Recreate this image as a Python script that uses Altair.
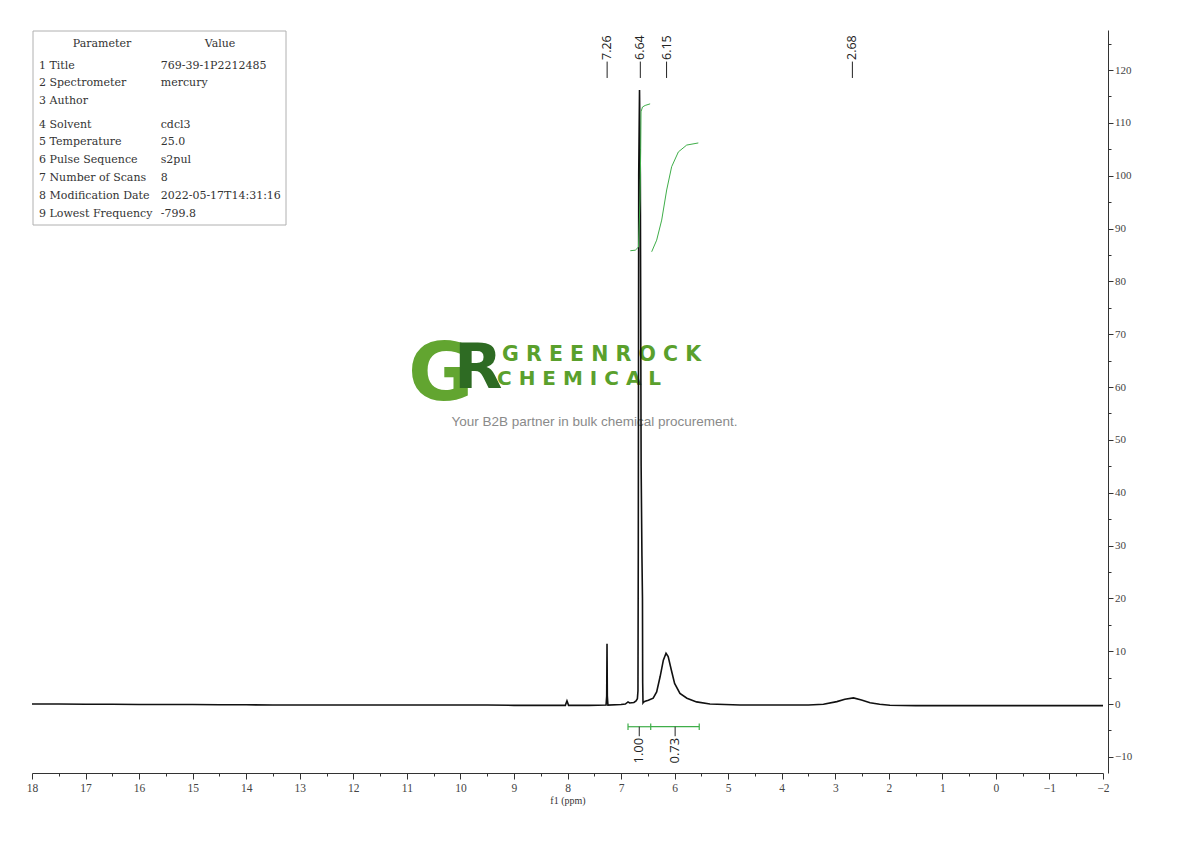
import altair as alt
import pandas as pd

# 1H NMR trace: chemical shift (ppm) and intensity
PPM = [18.0, 17.5, 17.0, 16.5, 16.0, 15.5, 15.0, 14.5, 14.0, 13.5, 13.0, 12.5, 12.0,
       11.5, 11.0, 10.5, 10.0, 9.5, 9.0, 8.5, 8.04, 8.01, 7.98, 7.6, 7.28, 7.268,
       7.262, 7.256, 7.245, 7.0, 6.92, 6.87, 6.84, 6.76, 6.72, 6.695, 6.684, 6.678,
       6.670, 6.655, 6.640, 6.625, 6.610, 6.600, 6.596, 6.590, 6.575, 6.55, 6.49,
       6.40, 6.335, 6.27, 6.21, 6.16, 6.12, 6.06, 6.00, 5.90, 5.77, 5.59, 5.34,
       4.78, 4.0, 3.5, 3.22, 2.97, 2.82, 2.66, 2.51, 2.35, 2.17, 1.98, 1.5, 1.0,
       0.5, 0.0, -0.5, -1.0, -1.5, -2.0]
INTENSITY = [0.0, 0.0, -0.05, -0.05, -0.1, -0.1, -0.1, -0.15, -0.15, -0.2, -0.2, -0.2,
             -0.2, -0.2, -0.2, -0.2, -0.2, -0.2, -0.25, -0.25, -0.25, 0.6, -0.25, -0.25,
             -0.2, 1.5, 11.4, 1.5, -0.2, -0.1, 0.0, 0.4, 0.2, 0.3, 0.6, 1.0, 2.5, 30.0,
             100.0, 116.2, 100.0, 45.0, 28.0, 20.0, 4.0, 0.2, 0.4, 0.5, 0.7,
             1.1, 2.3, 5.2, 8.3, 9.6, 9.0, 6.4, 3.9, 2.0, 1.1, 0.4, 0.0,
             -0.2, -0.2, -0.2, -0.05, 0.45, 0.9, 1.15, 0.75, 0.25, -0.05, -0.25, -0.3, -0.3,
             -0.3, -0.3, -0.3, -0.3, -0.3, -0.3]

# integral curves (drawn on the same vertical scale as in the picture)
INT1_PPM = [6.827, 6.734, 6.674, 6.646, 6.633, 6.627, 6.60, 6.55, 6.457]
INT1_Y = [85.8, 85.9, 86.5, 95.4, 104.9, 112.1, 113.0, 113.3, 113.6]
INT2_PPM = [6.428, 6.335, 6.241, 6.148, 6.055, 5.93, 5.774, 5.557]
INT2_Y = [85.6, 87.8, 91.6, 97.3, 101.7, 104.5, 105.8, 106.2]

PEAK_PPM = [7.26, 6.64, 6.15, 2.68]
PEAK_LABELS = ["7.26", "6.64", "6.15", "2.68"]

INT_EDGES = [6.87, 6.446, 5.54]
INT_CENTERS = [6.66, 5.99]
INT_LABELS = ["1.00", "0.73"]

X_TICKS = list(range(-2, 19))
X_MINOR = [t + 0.5 for t in range(-2, 18)]
Y_TICKS = list(range(-10, 121, 10))
Y_MINOR = list(range(-5, 126, 10))

PARAMS_A = ["1 Title", "2 Spectrometer", "3 Author"]
VALUES_A = ["769-39-1P2212485", "mercury", ""]
PARAMS_B = ["4 Solvent", "5 Temperature", "6 Pulse Sequence", "7 Number of Scans",
            "8 Modification Date", "9 Lowest Frequency"]
VALUES_B = ["cdcl3", "25.0", "s2pul", "8", "2022-05-17T14:31:16", "-799.8"]

W, H = 1071, 743
GREEN = "#3fae49"
SERIF = "Liberation Serif"
TABLE_FONT = "DejaVu Serif"

x_scale = alt.Scale(domain=[-2, 18], reverse=True, nice=False, zero=False)
y_scale = alt.Scale(domain=[-13.06, 127.58], nice=False, zero=False)

x_major = alt.Axis(values=X_TICKS, orient="bottom", title="f1 (ppm)", grid=False,
                   tickSize=6, tickColor="#333", domainColor="#333", labelFont=SERIF,
                   labelFontSize=11.5, labelColor="#444", labelPadding=3, labelFlush=False,
                   labelOverlap=False, titleFont=SERIF, titleFontSize=10,
                   titleFontWeight="normal", titleColor="#333", titlePadding=2)
x_minor = alt.Axis(values=X_MINOR, orient="bottom", title="", grid=False, labels=False,
                   domain=False, tickSize=3, tickColor="#333")
y_major = alt.Axis(values=Y_TICKS, orient="right", offset=5, title="", grid=False,
                   tickSize=5, tickColor="#333", domainColor="#333", labelFont=SERIF,
                   labelFontSize=11, labelColor="#444", labelPadding=1.5, labelFlush=False,
                   labelOverlap=False)
y_minor = alt.Axis(values=Y_MINOR, orient="right", offset=5, title="", grid=False,
                   labels=False, domain=False, tickSize=3, tickColor="#333")

one = pd.DataFrame({"a": [0]})

# parameter table, top left
box = alt.Chart(one).mark_rect(fill="white", stroke="#b0b0b0", strokeWidth=1).encode(
    x=alt.value(1), x2=alt.value(254), y=alt.value(1), y2=alt.value(195))
head_p = alt.Chart(one).mark_text(text="Parameter", font=TABLE_FONT, fontSize=11, color="#333",
                                  align="center").encode(x=alt.value(70), y=alt.value(14))
head_v = alt.Chart(one).mark_text(text="Value", font=TABLE_FONT, fontSize=11, color="#333",
                                  align="center").encode(x=alt.value(188), y=alt.value(14))
table = [box, head_p, head_v]
for lines, xpx, ypx in [(PARAMS_A, 7, 35.5), (VALUES_A, 128.7, 35.5),
                        (PARAMS_B, 7, 94.5), (VALUES_B, 128.7, 94.5)]:
    table.append(alt.Chart(one).mark_text(text=lines, font=TABLE_FONT, fontSize=11,
                                          color="#333", align="left", lineHeight=17.8).encode(
        x=alt.value(xpx), y=alt.value(ypx)))

# watermark logo in the middle
logo = [
    alt.Chart(one).mark_text(text="G", font="DejaVu Sans", fontWeight="bold", fontSize=80,
                             color="#62a530", align="left", baseline="alphabetic").encode(
        x=alt.value(376), y=alt.value(370)),
    alt.Chart(one).mark_text(text="R", font="DejaVu Sans", fontWeight="bold", fontSize=63,
                             color="#2e6b23", align="left", baseline="alphabetic").encode(
        x=alt.value(422), y=alt.value(358)),
    alt.Chart(one).mark_text(text="G R E E N R O C K", font="DejaVu Sans", fontWeight="bold",
                             fontSize=20.5, color="#5aa02c", align="left",
                             baseline="alphabetic").encode(x=alt.value(470), y=alt.value(331)),
    alt.Chart(one).mark_text(text="C H E M I C A L", font="DejaVu Sans", fontWeight="bold",
                             fontSize=20, color="#5aa02c", align="left",
                             baseline="alphabetic").encode(x=alt.value(465), y=alt.value(355)),
    alt.Chart(one).mark_text(text="Your B2B partner in bulk chemical procurement.",
                             font="Liberation Sans", fontSize=13.5, color="#8a8a8a",
                             align="center", baseline="alphabetic").encode(
        x=alt.value(562.5), y=alt.value(395.5)),
]

spec_df = pd.DataFrame({"ppm": PPM, "intensity": INTENSITY})
spectrum = alt.Chart(spec_df).mark_line(color="#111", strokeWidth=1.6).encode(
    x=alt.X("ppm:Q", scale=x_scale, axis=x_major),
    y=alt.Y("intensity:Q", scale=y_scale, axis=y_major),
)

int_df = pd.concat([
    pd.DataFrame({"curve": "a", "ppm": INT1_PPM, "y": INT1_Y}),
    pd.DataFrame({"curve": "b", "ppm": INT2_PPM, "y": INT2_Y}),
])
integrals = alt.Chart(int_df).mark_line(color=GREEN, strokeWidth=1).encode(
    x=alt.X("ppm:Q", scale=x_scale, axis=x_minor),
    y=alt.Y("y:Q", scale=y_scale, axis=y_minor),
    detail="curve:N",
)

# integration bar with end ticks and values
seg_df = pd.DataFrame({"start": INT_EDGES[:-1], "end": INT_EDGES[1:]})
bar = alt.Chart(seg_df).mark_rule(color=GREEN, strokeWidth=1.2).encode(
    x=alt.X("start:Q", scale=x_scale, axis=None), x2="end:Q",
    y=alt.YDatum(-4.3, scale=y_scale, axis=None))
edge_df = pd.DataFrame({"ppm": INT_EDGES})
edges = alt.Chart(edge_df).mark_rule(color=GREEN, strokeWidth=1.2).encode(
    x=alt.X("ppm:Q", scale=x_scale, axis=None),
    y=alt.YDatum(-3.7, scale=y_scale, axis=None), y2=alt.Y2Datum(-4.9))
lab_df = pd.DataFrame({"ppm": INT_CENTERS, "label": INT_LABELS})
lab_ticks = alt.Chart(lab_df).mark_rule(color="#222", strokeWidth=1).encode(
    x=alt.X("ppm:Q", scale=x_scale, axis=None),
    y=alt.YDatum(-4.3, scale=y_scale, axis=None), y2=alt.Y2Datum(-6.1))
lab_text = alt.Chart(lab_df).mark_text(angle=270, align="right", baseline="middle",
                                       font="Open Sans", fontSize=13, color="#222").encode(
    x=alt.X("ppm:Q", scale=x_scale, axis=None),
    y=alt.YDatum(-6.4, scale=y_scale, axis=None), text="label:N")

# peak picking labels along the top
peak_df = pd.DataFrame({"ppm": PEAK_PPM, "label": PEAK_LABELS})
peak_ticks = alt.Chart(peak_df).mark_rule(color="#222", strokeWidth=1).encode(
    x=alt.X("ppm:Q", scale=x_scale, axis=None),
    y=alt.YDatum(118.5, scale=y_scale, axis=None), y2=alt.Y2Datum(121.6))
peak_text = alt.Chart(peak_df).mark_text(angle=270, align="left", baseline="middle",
                                         font="Open Sans", fontSize=12.5, color="#222").encode(
    x=alt.X("ppm:Q", scale=x_scale, axis=None),
    y=alt.YDatum(121.9, scale=y_scale, axis=None), text="label:N")

chart = alt.layer(
    *table, *logo, spectrum, integrals, bar, edges, lab_ticks, lab_text, peak_ticks, peak_text
).resolve_axis(x="independent", y="independent").properties(
    width=W, height=H,
    autosize=alt.AutoSizeParams(type="none"),
    padding={"left": 24, "top": 22, "right": 60, "bottom": 45},
).configure_view(strokeWidth=0)

chart.save("out.html", embed_options={"renderer": "svg", "actions": False})
